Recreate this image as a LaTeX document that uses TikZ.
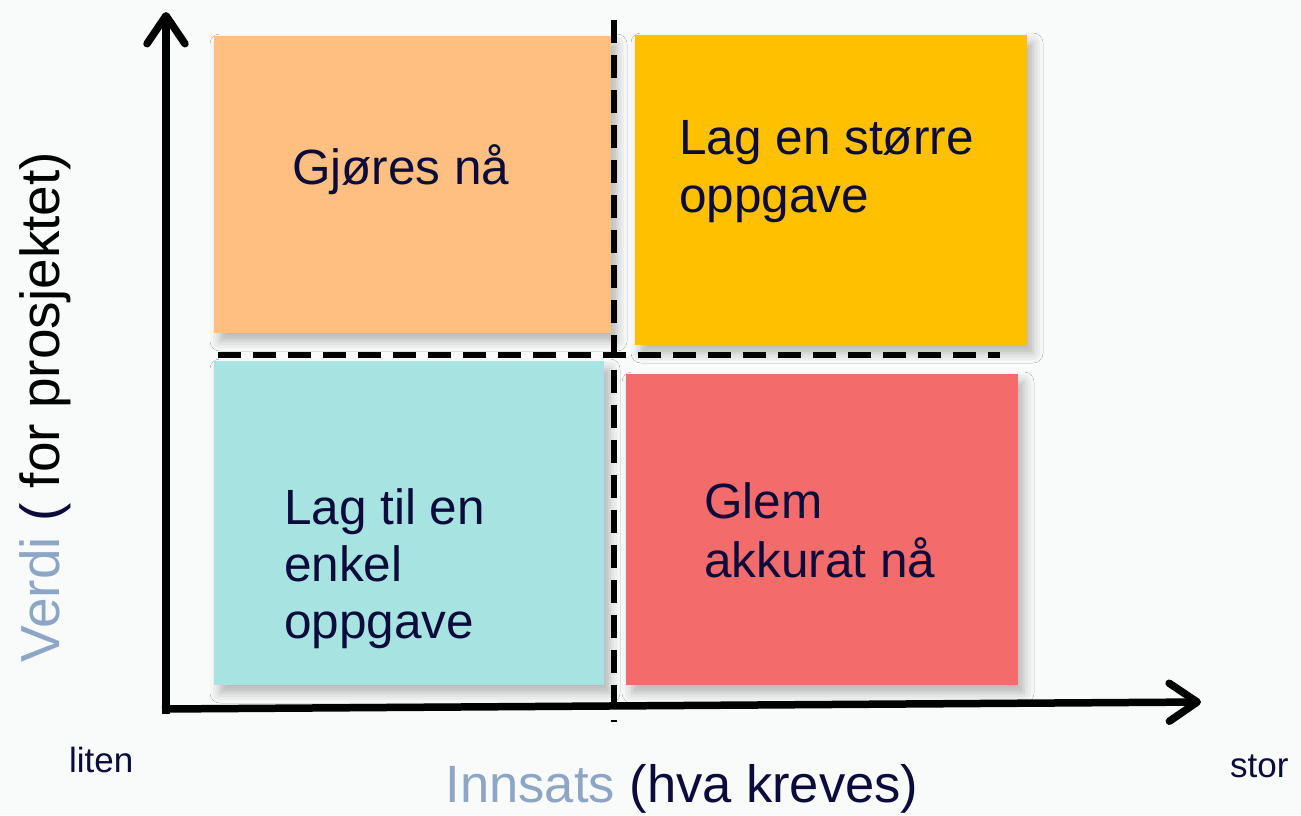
\documentclass[tikz,border=0pt]{standalone}
\usepackage{fontspec}
\setmainfont{Liberation Sans}
\usetikzlibrary{arrows.meta,shadows.blur}
\definecolor{bgcol}{HTML}{F9FAFA}
\definecolor{navy}{HTML}{0C0C3C}
\definecolor{greyblue}{HTML}{8DA6C6}
\definecolor{boxorange}{HTML}{FEBF80}
\definecolor{boxyellow}{HTML}{FFC000}
\definecolor{boxteal}{HTML}{A7E3E0}
\definecolor{boxred}{HTML}{F36B6B}
\tikzset{
  quad/.style={draw=none, blur shadow={shadow xshift=6pt, shadow yshift=-8pt, shadow blur radius=10pt, shadow opacity=28}},
  quadtext/.style={anchor=base west, inner sep=0pt, align=left, text=navy,
    font={\fontsize{49.5}{58}\selectfont}},
  axis/.style={line width=7.5pt, -{Straight Barb[length=28pt,width=38pt,round]}},
  divider/.style={line width=5.5pt, dash pattern=on 23pt off 12pt},
  axislabel/.style={inner sep=0pt},
  endlabel/.style={inner sep=0pt, anchor=base west, text=navy, font={\fontsize{35}{42}\selectfont}}
}
\begin{document}
\begin{tikzpicture}[x=1pt,y=-1pt]
\fill[bgcol] (0,0) rectangle (1301,815);
\useasboundingbox (0,0) rectangle (1301,815);

% quadrant boxes
\path[quad, fill=boxorange] (214,36) rectangle (611,333);
\path[quad, fill=boxyellow] (635,35) rectangle (1027,345);
\path[quad, fill=boxteal] (214,361) rectangle (604,685);
\path[quad, fill=boxred] (626,374) rectangle (1018,685);

% dividers
\coordinate (vtop) at (614,20);
\coordinate (vbot) at (614,722);
\coordinate (hleft) at (218,355);
\coordinate (hright) at (1000,355);
\draw[divider] (vtop) -- (vbot);
\draw[divider] (hleft) -- (hright);

% axes
\coordinate (oy) at (166,714);
\coordinate (ytip) at (166,12);
\coordinate (ox) at (162,709);
\coordinate (xtip) at (1201,702);
\draw[axis] (oy) -- (ytip);
\draw[axis] (ox) -- (xtip);

% quadrant texts (node base = baseline of the last line)
\node[quadtext] (q1) at (292,184) {Gjøres nå};
\node[quadtext] (q2) at (679,212) {Lag en større\\oppgave};
\node[quadtext, font={\fontsize{49.5}{57}\selectfont}] (q3) at (284,638) {Lag til en\\enkel\\oppgave};
\node[quadtext, font={\fontsize{49.5}{59}\selectfont}] (q4) at (704,577) {Glem\\akkurat nå};

% axis labels
\node[axislabel, anchor=base, rotate=90, font={\fontsize{55}{66}\selectfont}] (ylab) at (59,407)
  {\textcolor{greyblue}{Verdi} \textcolor{navy}{(} \textcolor{black}{for prosjektet)}};
\node[axislabel, anchor=base, font={\fontsize{52.5}{63}\selectfont}] (xlab) at (682,802)
  {\textcolor{greyblue}{Innsats} \textcolor{navy}{(hva kreves)}};
\node[endlabel] (liten) at (69,772) {liten};
\node[endlabel] (stor) at (1230,777) {stor};
\end{tikzpicture}
\end{document}
